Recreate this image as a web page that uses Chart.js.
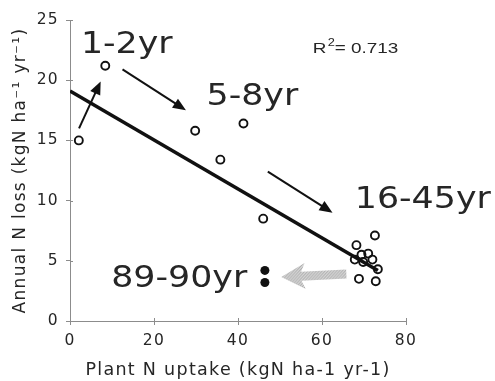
<!DOCTYPE html>
<html>
<head>
<meta charset="utf-8">
<script src="https://cdn.jsdelivr.net/npm/chart.js@4.4.0/dist/chart.umd.min.js"></script>
<style>
  html, body { margin: 0; padding: 0; background: #fff; }
  #wrap { width: 495px; height: 381px; }
</style>
</head>
<body>
<div id="wrap"><canvas id="c" width="495" height="381"></canvas></div>
<script>
// ---- data ----
const openX = [2.1, 8.4, 29.8, 35.8, 41.3, 46.0, 72.6, 68.2, 69.4, 71.0, 72.0, 67.8, 69.8, 73.3, 68.8, 72.8];
const openY = [15.0, 21.2, 15.8, 13.4, 16.4, 8.5, 7.1, 6.3, 5.5, 5.6, 5.1, 5.1, 4.9, 4.3, 3.5, 3.3];
const filledX = [46.4, 46.4];
const filledY = [4.2, 3.2];
const fitX = [0, 73.3];
const fitY = [19.1, 4.2];
const xTicks = [0, 20, 40, 60, 80];
const yTicks = [0, 5, 10, 15, 20, 25];
const ageLabels = ["1-2yr", "5-8yr", "16-45yr", "89-90yr"];
const ageLabelX = [2.6, 32.5, 67.8, 9.8];
const ageLabelY = [22.3, 17.9, 9.4, 2.8];
const rSquared = "0.713";
// arrows: [tailX, tailY], [tipX, tipY]
const arrowTail = [[2.15, 16.0], [12.5, 20.9], [47.1, 12.4]];
const arrowTip  = [[7.3, 19.9], [27.6, 17.5], [62.5, 9.0]];
const grayArrowTail = [65.8, 3.9];
const grayArrowTip  = [50.3, 3.65];

const toPts = (xs, ys) => xs.map((x, i) => ({x: x, y: ys[i]}));
const AXIS = '#8c8c8c';
const TXT = '#262626';

const spacingPlugin = {
  id: 'spacing',
  beforeUpdate(chart) { chart.ctx.letterSpacing = '1.3px'; },
  beforeLayout(chart) { chart.ctx.letterSpacing = '1.3px'; },
  beforeDraw(chart) { chart.ctx.letterSpacing = '1.3px'; }
};

function arrowHead(ctx, x1, y1, x2, y2, len, half) {
  const a = Math.atan2(y2 - y1, x2 - x1);
  ctx.beginPath();
  ctx.moveTo(x2, y2);
  ctx.lineTo(x2 - len * Math.cos(a) + half * Math.sin(a), y2 - len * Math.sin(a) - half * Math.cos(a));
  ctx.lineTo(x2 - len * Math.cos(a) - half * Math.sin(a), y2 - len * Math.sin(a) + half * Math.cos(a));
  ctx.closePath();
  ctx.fill();
}

function stipple(ctx) {
  const c = document.createElement('canvas');
  c.width = 3; c.height = 3;
  const g = c.getContext('2d');
  g.fillStyle = '#d4d4d4'; g.fillRect(0, 0, 3, 3);
  g.fillStyle = '#a8a8a8'; g.fillRect(0, 0, 1, 1); g.fillRect(2, 1, 1, 1); g.fillRect(1, 2, 1, 1);
  return ctx.createPattern(c, 'repeat');
}

const annotPlugin = {
  id: 'annot',
  afterDraw(chart) {
    const ctx = chart.ctx;
    const xs = chart.scales.x, ys = chart.scales.y;
    const px = v => xs.getPixelForValue(v), py = v => ys.getPixelForValue(v);
    ctx.save();
    ctx.letterSpacing = '0px';

    // inner halves of tick marks (ticks cross the axes)
    ctx.strokeStyle = AXIS; ctx.lineWidth = 1;
    xTicks.forEach(v => { const x = Math.round(px(v)) + 0.5; ctx.beginPath(); ctx.moveTo(x, ys.bottom); ctx.lineTo(x, ys.bottom - 3); ctx.stroke(); });
    yTicks.forEach(v => { const y = Math.round(py(v)) + 0.5; ctx.beginPath(); ctx.moveTo(xs.left, y); ctx.lineTo(xs.left + 3, y); ctx.stroke(); });

    // black arrows
    ctx.strokeStyle = '#111'; ctx.fillStyle = '#111'; ctx.lineWidth = 2;
    arrowTail.forEach((t, i) => {
      const x1 = px(t[0]), y1 = py(t[1]), x2 = px(arrowTip[i][0]), y2 = py(arrowTip[i][1]);
      const a = Math.atan2(y2 - y1, x2 - x1);
      ctx.beginPath(); ctx.moveTo(x1, y1); ctx.lineTo(x2 - 8 * Math.cos(a), y2 - 8 * Math.sin(a)); ctx.stroke();
      arrowHead(ctx, x1, y1, x2, y2, 13, 5.5);
    });

    // gray block arrow
    {
      const x1 = px(grayArrowTail[0]), y1 = py(grayArrowTail[1]);
      const x2 = px(grayArrowTip[0]), y2 = py(grayArrowTip[1]);
      const a = Math.atan2(y2 - y1, x2 - x1);
      const L = Math.hypot(x2 - x1, y2 - y1);
      ctx.save();
      ctx.translate(x1, y1); ctx.rotate(a);
      ctx.fillStyle = stipple(ctx);
      const headLen = 20, shaft = 4.5, head = 13;
      ctx.beginPath();
      ctx.moveTo(0, -shaft);
      ctx.lineTo(L - headLen, -shaft);
      ctx.lineTo(L - headLen - 4, -head);
      ctx.lineTo(L, 0);
      ctx.lineTo(L - headLen - 4, head);
      ctx.lineTo(L - headLen, shaft);
      ctx.lineTo(0, shaft);
      ctx.closePath();
      ctx.fill();
      ctx.restore();
    }

    // age labels
    ctx.fillStyle = TXT;
    ctx.textBaseline = 'alphabetic';
    ctx.textAlign = 'left';
    ctx.font = '30px "DejaVu Sans"';
    ageLabels.forEach((t, i) => {
      ctx.save();
      ctx.translate(px(ageLabelX[i]), py(ageLabelY[i]));
      ctx.scale(1.16, 1);
      ctx.fillText(t, 0, 0);
      ctx.restore();
    });

    // R^2
    ctx.save();
    ctx.translate(px(57.8), py(22.3));
    ctx.scale(1.22, 1);
    ctx.font = '15.5px "Liberation Sans"';
    ctx.fillText('R', 0, 0);
    let w = ctx.measureText('R').width + 1;
    ctx.font = '10.5px "Liberation Sans"';
    ctx.fillText('2', w, -7);
    w += ctx.measureText('2').width;
    ctx.font = '15.5px "Liberation Sans"';
    ctx.fillText('= ' + rSquared, w, 0);
    ctx.restore();

    ctx.restore();
  }
};

new Chart(document.getElementById('c'), {
  type: 'scatter',
  data: {
    datasets: [
      {
        type: 'line',
        data: toPts(fitX, fitY),
        borderColor: '#111',
        borderWidth: 3.6,
        pointRadius: 0,
        fill: false,
        order: 3
      },
      {
        data: toPts(openX, openY),
        pointRadius: 4,
        pointBorderWidth: 1.9,
        pointBorderColor: '#111',
        pointBackgroundColor: 'rgba(0,0,0,0)',
        order: 1
      },
      {
        data: toPts(filledX, filledY),
        pointRadius: 4.5,
        pointBorderWidth: 0,
        pointBackgroundColor: '#111',
        pointBorderColor: '#111',
        order: 1
      }
    ]
  },
  options: {
    responsive: false,
    animation: false,
    devicePixelRatio: 1,
    layout: { padding: { top: 20, right: 89, left: 0, bottom: 0 } },
    plugins: { legend: { display: false }, tooltip: { enabled: false } },
    scales: {
      x: {
        type: 'linear',
        min: 0, max: 80,
        afterBuildTicks: s => { s.ticks = xTicks.map(v => ({value: v})); },
        afterFit: s => { s.height = 60; },
        grid: { drawOnChartArea: false, tickLength: 4, color: AXIS },
        border: { color: AXIS, width: 1 },
        ticks: { color: TXT, font: { family: '"DejaVu Sans"', size: 15.5 }, padding: 7, maxRotation: 0 },
        title: { display: true, text: 'Plant N uptake (kgN ha-1 yr-1)', color: TXT,
                 font: { family: '"DejaVu Sans"', size: 17.5 }, padding: { top: 0, bottom: 0 } }
      },
      y: {
        type: 'linear',
        min: 0, max: 25,
        afterBuildTicks: s => { s.ticks = yTicks.map(v => ({value: v})); },
        afterFit: s => { s.width = 70; },
        grid: { drawOnChartArea: false, tickLength: 4, color: AXIS },
        border: { color: AXIS, width: 1 },
        ticks: { color: TXT, font: { family: '"DejaVu Sans"', size: 15.5 }, padding: 7 },
        title: { display: true, text: 'Annual N loss (kgN ha\u207B\u00B9 yr\u207B\u00B9)', color: TXT,
                 font: { family: '"DejaVu Sans"', size: 17 }, padding: { top: 10, bottom: 0 } }
      }
    }
  },
  plugins: [spacingPlugin, annotPlugin]
});
</script>
</body>
</html>
